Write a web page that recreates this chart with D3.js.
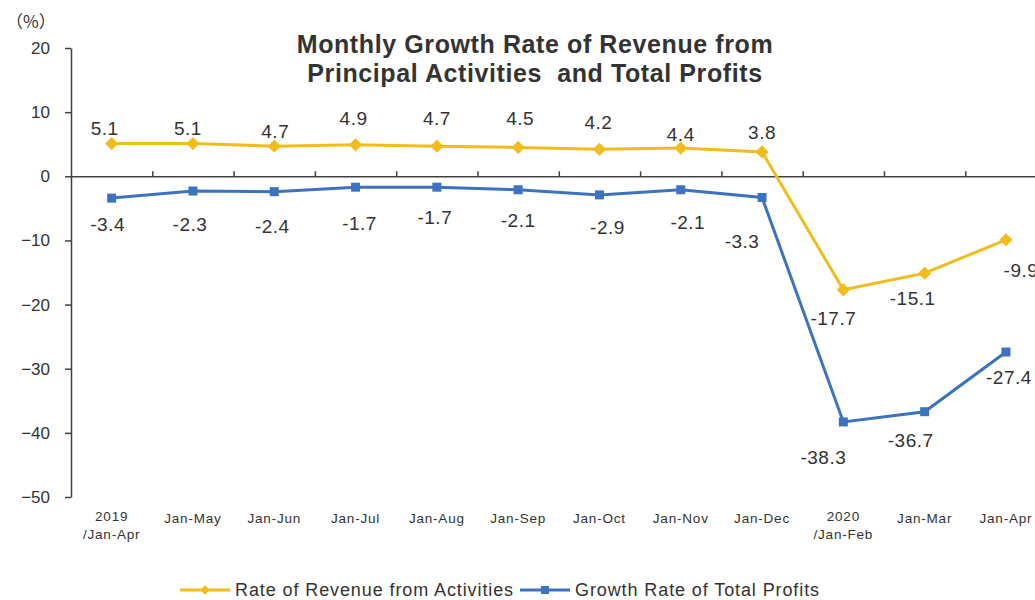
<!DOCTYPE html>
<html>
<head>
<meta charset="utf-8">
<script src="https://cdn.jsdelivr.net/npm/d3@7"></script>
<style>
  body { margin: 0; background: #fff; }
  text { font-family: "Liberation Sans", Arial, sans-serif; fill: #333; }
</style>
</head>
<body>
<div id="container"></div>
<script>
/* DATA */
const categories = ["2019\n/Jan-Apr", "Jan-May", "Jan-Jun", "Jan-Jul", "Jan-Aug", "Jan-Sep",
  "Jan-Oct", "Jan-Nov", "Jan-Dec", "2020\n/Jan-Feb", "Jan-Mar", "Jan-Apr"];
const revenueRate = [5.1, 5.1, 4.7, 4.9, 4.7, 4.5, 4.2, 4.4, 3.8, -17.7, -15.1, -9.9];
const profitRate = [-3.4, -2.3, -2.4, -1.7, -1.7, -2.1, -2.9, -2.1, -3.3, -38.3, -36.7, -27.4];
const yTicks = [20, 10, 0, -10, -20, -30, -40, -50];
const seriesNames = ["Rate of Revenue from Activities", "Growth Rate of Total Profits"];

/* LAYOUT */
const width = 1035,
  height = 600,
  margin = { top: 48, left: 71, bottom: 103 },
  step = 81.3;

const yellow = "#F2BC1B",
  blue = "#3C73C1",
  axisColor = "#404040";

// label nudges (text centre relative to the point)
const revenueNudge = [[-7, -15], [-5, -15], [1, -15], [-2, -27], [0, -28], [2, -29],
  [-1, -27], [0, -14], [0, -20], [-10, 28], [-12, 25], [15, 30]];
const profitNudge = [[-4, 26], [-3, 33], [-2, 34], [4, 36], [-2, 30], [0, 30],
  [8, 32], [7, 32], [-20, 44], [-20, 35], [-14, 28], [3, 25]];

const svg = d3.select("#container").append("svg")
  .attr("width", width)
  .attr("height", height);

const x = d3.scaleBand()
  .domain(d3.range(categories.length))
  .range([margin.left, margin.left + step * categories.length]);

const xb = d3.scaleLinear()
  .domain([0, categories.length])
  .range([margin.left, margin.left + step * categories.length]);

const y = d3.scaleLinear()
  .domain([-50, 20])
  .range([height - margin.bottom, margin.top]);

const cx = i => x(i) + x.bandwidth() / 2;

/* Y AXIS */
const yAxis = svg.append("g")
  .attr("transform", `translate(${margin.left},0)`)
  .call(d3.axisLeft(y).tickValues(yTicks).tickSize(6).tickPadding(15).tickSizeOuter(0));
yAxis.select(".domain").attr("stroke", axisColor).attr("stroke-width", 1.5);
yAxis.selectAll(".tick line").attr("stroke", axisColor).attr("stroke-width", 1.5);
yAxis.selectAll(".tick text")
  .attr("font-size", 17)
  .attr("fill", "#333")
  .style("font-family", "'Liberation Sans', Arial, sans-serif");

/* ZERO LINE WITH CATEGORY TICKS */
const zeroAxis = svg.append("g")
  .attr("transform", `translate(0,${y(0)})`)
  .call(d3.axisTop(xb).tickValues(d3.range(1, categories.length)).tickSize(5).tickFormat("").tickSizeOuter(0));
zeroAxis.select(".domain").attr("stroke", axisColor).attr("stroke-width", 1.5);
zeroAxis.selectAll(".tick line").attr("stroke", axisColor).attr("stroke-width", 1.5);

/* X LABELS */
const xLabels = svg.append("g")
  .attr("transform", `translate(0,${y(-50)})`)
  .call(d3.axisBottom(x).tickSize(0).tickPadding(0).tickFormat(""));
xLabels.select(".domain").remove();
xLabels.selectAll(".tick").each(function (i) {
  const lines = categories[i].split("\n");
  const t = d3.select(this).append("text")
    .attr("text-anchor", "middle")
    .attr("font-size", 13.5)
    .attr("letter-spacing", 0.8)
    .attr("fill", "#333");
  lines.forEach((s, k) => {
    t.append("tspan")
      .attr("x", 0)
      .attr("y", lines.length > 1 ? 24 + k * 18 : 26)
      .text(s);
  });
});

/* LINES */
const line = d3.line()
  .x((d, i) => cx(i))
  .y(d => y(d));

svg.append("path")
  .datum(profitRate)
  .attr("fill", "none")
  .attr("stroke", blue)
  .attr("stroke-width", 3)
  .attr("d", line);

svg.append("path")
  .datum(revenueRate)
  .attr("fill", "none")
  .attr("stroke", yellow)
  .attr("stroke-width", 3)
  .attr("d", line);

svg.selectAll(".sq")
  .data(profitRate)
  .join("rect")
  .attr("class", "sq")
  .attr("x", (d, i) => cx(i) - 4.5)
  .attr("y", d => y(d) - 4.5)
  .attr("width", 9)
  .attr("height", 9)
  .attr("fill", blue);

const diamond = d3.symbol().type(d3.symbolDiamond2).size(110);
svg.selectAll(".dm")
  .data(revenueRate)
  .join("path")
  .attr("class", "dm")
  .attr("transform", (d, i) => `translate(${cx(i)},${y(d)})`)
  .attr("d", diamond)
  .attr("fill", yellow);

/* DATA LABELS */
svg.selectAll(".lblR")
  .data(revenueRate)
  .join("text")
  .attr("class", "lblR")
  .attr("x", (d, i) => cx(i) + revenueNudge[i][0])
  .attr("y", (d, i) => y(d) + revenueNudge[i][1])
  .attr("dy", "0.36em")
  .attr("text-anchor", "middle")
  .attr("font-size", 19)
  .attr("letter-spacing", 0.5)
  .text(d => d.toFixed(1));

svg.selectAll(".lblP")
  .data(profitRate)
  .join("text")
  .attr("class", "lblP")
  .attr("x", (d, i) => cx(i) + profitNudge[i][0])
  .attr("y", (d, i) => y(d) + profitNudge[i][1])
  .attr("dy", "0.36em")
  .attr("text-anchor", "middle")
  .attr("font-size", 19)
  .attr("letter-spacing", 0.5)
  .text(d => d.toFixed(1));

/* TITLE */
const title = svg.append("text")
  .attr("text-anchor", "middle")
  .attr("font-size", 25)
  .attr("font-weight", "bold")
  .attr("letter-spacing", 0.6)
  .attr("fill", "#111")
  .style("white-space", "pre");
title.append("tspan").attr("x", 535).attr("y", 53).text("Monthly Growth Rate of Revenue from");
title.append("tspan").attr("x", 535).attr("y", 82).text("Principal Activities  and Total Profits");

/* UNIT */
svg.append("text")
  .attr("x", 6)
  .attr("y", 28)
  .attr("font-size", 17)
  .style("font-family", "'Noto Sans CJK SC', sans-serif")
  .text("（%）");

/* LEGEND */
const legend = svg.append("g").attr("transform", "translate(0,590)");
const legendItems = [
  { name: seriesNames[0], color: yellow, x0: 180, shape: "diamond" },
  { name: seriesNames[1], color: blue, x0: 520, shape: "square" }
];
legendItems.forEach(it => {
  legend.append("line")
    .attr("x1", it.x0).attr("x2", it.x0 + 50)
    .attr("stroke", it.color).attr("stroke-width", 3);
  if (it.shape === "diamond") {
    legend.append("path")
      .attr("transform", `translate(${it.x0 + 25},0)`)
      .attr("d", d3.symbol().type(d3.symbolDiamond2).size(60)())
      .attr("fill", it.color);
  } else {
    legend.append("rect")
      .attr("x", it.x0 + 21).attr("y", -4).attr("width", 8).attr("height", 8)
      .attr("fill", it.color);
  }
  legend.append("text")
    .attr("x", it.x0 + 55)
    .attr("dy", "0.36em")
    .attr("font-size", 18)
    .attr("letter-spacing", 0.9)
    .attr("fill", "#222")
    .text(it.name);
});
</script>
</body>
</html>
